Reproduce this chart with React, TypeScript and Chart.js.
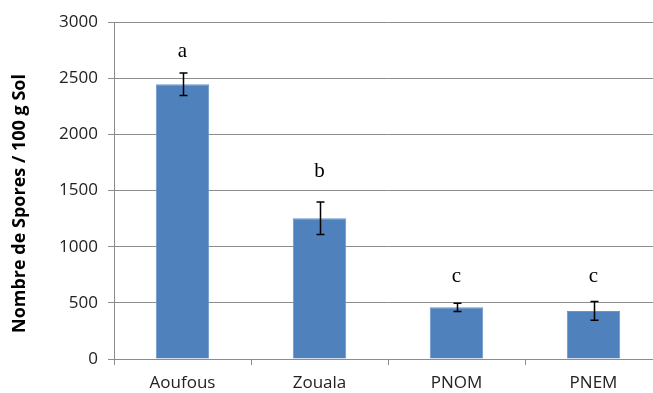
import React, { useEffect, useRef } from "react";
import { Chart, registerables } from "chart.js";

Chart.register(...registerables);

const categories = ["Aoufous", "Zouala", "PNOM", "PNEM"];
const sporeMeans = [2445, 1253, 460, 428];
const sporeErrors = [100, 145, 37, 83];
const groupLetters = ["a", "b", "c", "c"];
const letterLevels = [2688, 1620, 685, 685];
const yTicks = [0, 500, 1000, 1500, 2000, 2500, 3000];
const yTitle = "Nombre de Spores / 100 g Sol";

const GRID = "#8c8c8c";

const errorPlugin = {
  id: "errorBarsAndLetters",
  afterDatasetsDraw(chart: any) {
    const { ctx, scales } = chart;
    const x = scales.x;
    const y = scales.y;
    ctx.save();
    ctx.strokeStyle = "#000";
    ctx.lineWidth = 1.5;
    sporeMeans.forEach((m, i) => {
      const cx = Math.round(x.getPixelForValue(i)) + 0.5;
      const top = y.getPixelForValue(m + sporeErrors[i]);
      const bot = y.getPixelForValue(m - sporeErrors[i]);
      ctx.beginPath();
      ctx.moveTo(cx, top);
      ctx.lineTo(cx, bot);
      ctx.moveTo(cx - 4, top);
      ctx.lineTo(cx + 4, top);
      ctx.moveTo(cx - 4, bot);
      ctx.lineTo(cx + 4, bot);
      ctx.stroke();
    });
    ctx.fillStyle = "#000";
    ctx.font = "21px 'Liberation Serif'";
    ctx.textAlign = "center";
    ctx.textBaseline = "alphabetic";
    groupLetters.forEach((l, i) => {
      ctx.fillText(l, x.getPixelForValue(i), y.getPixelForValue(letterLevels[i]));
    });
    // y axis title (offset downward as in the original)
    const ca = chart.chartArea;
    ctx.translate(20, (ca.top + ca.bottom) / 2 + 13);
    ctx.rotate(-Math.PI / 2);
    ctx.font = "bold 18px 'Open Sans'";
    ctx.textBaseline = "middle";
    ctx.fillText(yTitle, 0, 0);
    ctx.restore();
  },
};

export default function App() {
  const ref = useRef<HTMLCanvasElement>(null);
  useEffect(() => {
    if (!ref.current) return;
    const chart = new Chart(ref.current, {
      type: "bar",
      data: {
        labels: categories,
        datasets: [
          {
            data: sporeMeans,
            backgroundColor: "#4F81BD",
            borderColor: "#6a95c9",
            borderWidth: 1,
            categoryPercentage: 1,
            barPercentage: 0.39,
          },
        ],
      },
      options: {
        animation: false,
        responsive: false,
        devicePixelRatio: 1,
        layout: { padding: { left: 0, right: 8, top: 22, bottom: 0 } },
        plugins: { legend: { display: false }, tooltip: { enabled: false } },
        scales: {
          x: {
            afterFit: (s: any) => {
              s.height = 34;
            },
            grid: { drawOnChartArea: false, drawTicks: true, tickLength: 6, color: GRID, offset: true },
            border: { display: true, color: GRID },
            ticks: { color: "#222", font: { family: "'Open Sans'", size: 17 }, padding: 8 },
          },
          y: {
            min: 0,
            max: 3000,
            afterBuildTicks: (s: any) => {
              s.ticks = yTicks.map((v) => ({ value: v }));
            },
            afterFit: (s: any) => {
              s.width = 114;
            },
            grid: { color: GRID, tickLength: 6 },
            border: { display: true, color: GRID },
            ticks: {
              color: "#222",
              font: { family: "'Open Sans'", size: 17 },
              padding: 10,
              callback: (v: any) => String(v),
            },
            title: { display: false },
          },
        },
      },
      plugins: [errorPlugin],
    });
    return () => chart.destroy();
  }, []);
  return (
    <div
      style={{
        position: "fixed",
        left: 0,
        top: 0,
        width: 653,
        height: 393,
        overflow: "hidden",
        background: "#fff",
      }}
    >
      <canvas ref={ref} width={670} height={393} style={{ width: 670, height: 393 }} />
    </div>
  );
}
